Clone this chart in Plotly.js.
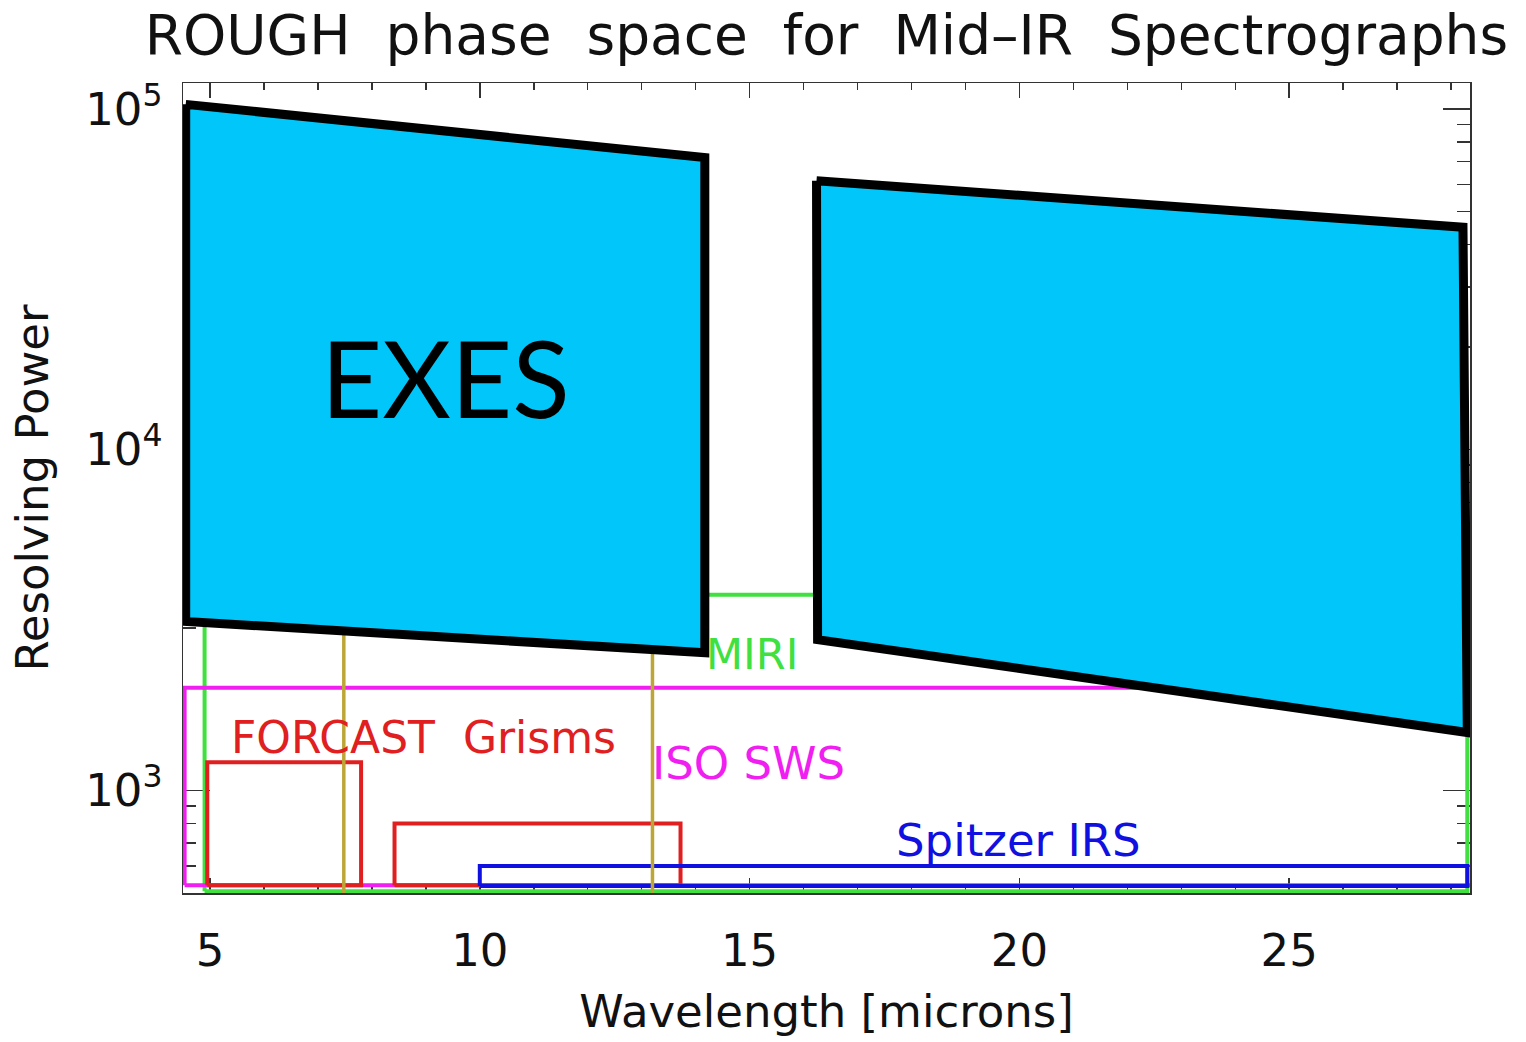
<!DOCTYPE html>
<html>
<head>
<meta charset="utf-8">
<script src="https://cdn.plot.ly/plotly-3.0.1.min.js"></script>
<style>
html,body{margin:0;padding:0;background:#fff;}
#chart{width:1526px;height:1042px;}
path.js-line{stroke-linejoin:miter !important;}
</style>
</head>
<body>
<div id="chart"></div>
<script>
// ---- data (wavelength in microns, resolving power) ----
const miriX = [4.9, 4.9, 28.3, 28.3, 4.9];
const miriY = [506, 3750, 3750, 506, 506];

const isoX = [4.53, 4.53, 30, 30, 4.53];
const isoY = [527, 2000, 2000, 527, 527];

const forcast1X = [4.95, 4.95, 7.8, 7.8, 4.95];
const forcast1Y = [527, 1210, 1210, 527, 527];
const forcast2X = [8.42, 8.42, 13.72, 13.72, 8.42];
const forcast2Y = [527, 800, 800, 527, 527];

const spitzerX = [10, 10, 28.3, 28.3, 10];
const spitzerY = [524, 600, 600, 524, 524];

const olive1X = [7.48, 7.48];
const olive1Y = [500, 4000];
const olive2X = [13.2, 13.2];
const olive2Y = [500, 4000];

const exesLeftX = [4.55, 14.17, 14.17, 4.55, 4.55];
const exesLeftY = [103000, 71900, 2535, 3130, 103000];
const exesRightX = [16.24, 28.22, 28.3, 16.26, 16.24];
const exesRightY = [61500, 44900, 1479, 2768, 61500];

const xTickVals = [5, 10, 15, 20, 25];
const xTickText = ['5', '10', '15', '20', '25'];
const yTickVals = [1000, 10000, 100000];
const yTickText = ['10<sup>3</sup>', '10<sup>4</sup>', '10<sup>5</sup>'];
const yMinorVals = [600, 700, 800, 900, 2000, 3000, 4000, 5000, 6000, 7000, 8000, 9000,
                    20000, 30000, 40000, 50000, 60000, 70000, 80000, 90000];

const titleText = 'ROUGH\u00a0 phase\u00a0 space\u00a0 for\u00a0 Mid\u2013IR\u00a0 Spectrographs';

// ---- styles ----
const FONT = 'DejaVu Sans';
const cGreen = '#3fe03f', cMag = '#f01ef0', cRed = '#e02020', cBlue = '#1010e0', cOlive = '#bba636';
const cCyan = '#00c6fa';

function rect(x, y, color, w) {
  return {x: x, y: y, type: 'scatter', mode: 'lines', hoverinfo: 'skip',
          line: {color: color, width: w}, showlegend: false};
}

const traces = [
  rect(miriX, miriY, cGreen, 4),
  rect(isoX, isoY, cMag, 4),
  rect(forcast1X, forcast1Y, cRed, 4),
  rect(forcast2X, forcast2Y, cRed, 4),
  rect(spitzerX, spitzerY, cBlue, 4),
  rect(olive1X, olive1Y, cOlive, 3.5),
  rect(olive2X, olive2Y, cOlive, 3.5),
  Object.assign(rect(exesLeftX, exesLeftY, '#000', 9), {fill: 'toself', fillcolor: cCyan}),
  Object.assign(rect(exesRightX, exesRightY, '#000', 9), {fill: 'toself', fillcolor: cCyan})
];

const layout = {
  width: 1526, height: 1042,
  paper_bgcolor: '#fff', plot_bgcolor: '#fff',
  margin: {l: 183, r: 56, t: 83, b: 149},
  font: {family: FONT, color: '#111', size: 45},
  title: {text: titleText, x: 0.5, xref: 'paper', xanchor: 'center', y: 0.967, yanchor: 'middle',
          font: {family: FONT, size: 55, color: '#111'}},
  showlegend: false,
  xaxis: {
    range: [4.5, 28.35], type: 'linear',
    tickmode: 'array', tickvals: xTickVals, ticktext: xTickText,
    ticks: 'inside', ticklen: 15, tickwidth: 1.5, tickcolor: '#333',
    minor: {ticks: 'inside', dtick: 1, tick0: 0, ticklen: 7, tickwidth: 1.5, tickcolor: '#333', showgrid: false},
    showline: true, linecolor: '#333', linewidth: 1.5, mirror: 'allticks',
    showgrid: false, zeroline: false, layer: 'below traces',
    ticklabelstandoff: 17,
    tickfont: {family: FONT, size: 45, color: '#111'},
    title: {text: 'Wavelength [microns]', standoff: 20, font: {family: FONT, size: 45, color: '#111'}}
  },
  yaxis: {
    type: 'log', range: [Math.log10(500), Math.log10(119000)],
    tickmode: 'array', tickvals: yTickVals, ticktext: yTickText,
    ticks: 'inside', ticklen: 27, tickwidth: 1.5, tickcolor: '#333',
    minor: {ticks: 'inside', tickmode: 'array', tickvals: yMinorVals, ticklen: 13, tickwidth: 1.5, tickcolor: '#333', showgrid: false},
    showline: true, linecolor: '#333', linewidth: 1.5, mirror: 'allticks',
    showgrid: false, zeroline: false, layer: 'below traces',
    ticklabelstandoff: 10,
    tickfont: {family: FONT, size: 45, color: '#111'},
    title: {text: 'Resolving Power', standoff: 22, font: {family: FONT, size: 45, color: '#111'}}
  },
  annotations: [
    {text: 'EXES', x: 9.37, y: Math.log10(16300), xref: 'x', yref: 'y', showarrow: false,
     font: {family: 'Lato', size: 106, color: '#000'}},
    {text: 'MIRI', x: 15.05, y: Math.log10(2520), xref: 'x', yref: 'y', showarrow: false,
     font: {family: FONT, size: 43, color: cGreen}},
    {text: 'FORCAST\u00a0 Grisms', x: 8.96, y: Math.log10(1430), xref: 'x', yref: 'y', showarrow: false,
     font: {family: FONT, size: 44, color: cRed}},
    {text: 'ISO SWS', x: 14.98, y: Math.log10(1200), xref: 'x', yref: 'y', showarrow: false,
     font: {family: FONT, size: 45, color: cMag}},
    {text: 'Spitzer IRS', x: 19.98, y: Math.log10(715), xref: 'x', yref: 'y', showarrow: false,
     font: {family: FONT, size: 45, color: cBlue}}
  ]
};

Plotly.newPlot('chart', traces, layout, {displayModeBar: false, staticPlot: true});
</script>
</body>
</html>
